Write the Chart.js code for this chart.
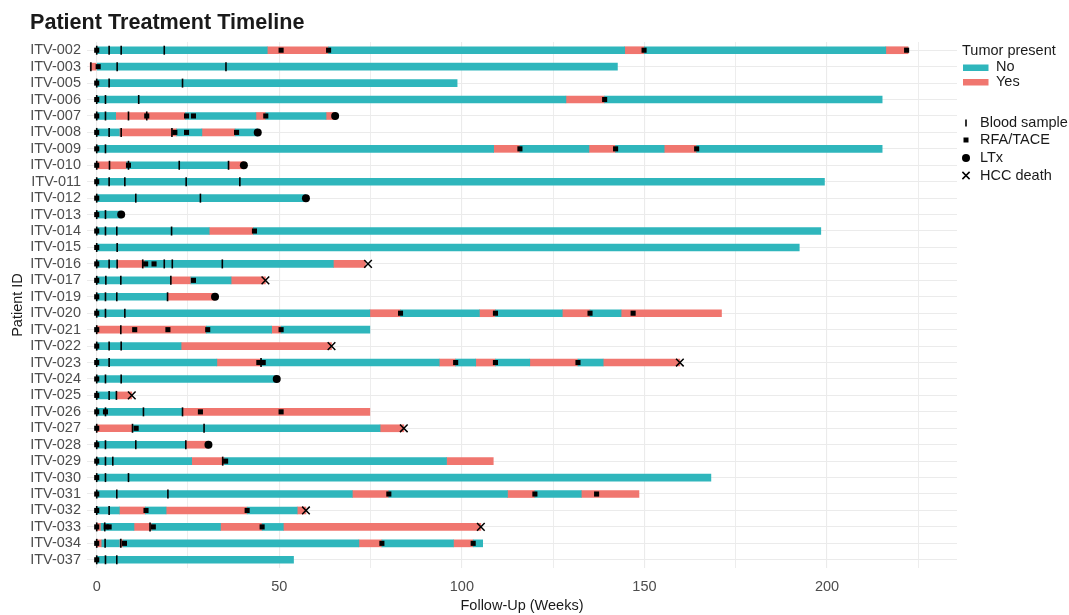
<!DOCTYPE html>
<html>
<head>
<meta charset="utf-8">
<title>Patient Treatment Timeline</title>
<script src="https://cdn.jsdelivr.net/npm/chart.js@4.4.0/dist/chart.umd.min.js"></script>
<style>
  html, body { margin: 0; padding: 0; background: #fff; }
</style>
</head>
<body>
<canvas id="timeline" width="1069" height="615"></canvas>
<script>
const patients = ["ITV-002", "ITV-003", "ITV-005", "ITV-006", "ITV-007", "ITV-008", "ITV-009", "ITV-010",
  "ITV-011", "ITV-012", "ITV-013", "ITV-014", "ITV-015", "ITV-016", "ITV-017", "ITV-019", "ITV-020",
  "ITV-021", "ITV-022", "ITV-023", "ITV-024", "ITV-025", "ITV-026", "ITV-027", "ITV-028", "ITV-029",
  "ITV-030", "ITV-031", "ITV-032", "ITV-033", "ITV-034", "ITV-037"];

// change points of tumor status (weeks), one row per patient
const tumorBreaks = [
  [0, 46.7, 63.5, 144.6, 150, 216.1, 222.2],
  [-1.8, 0, 142.6],
  [0, 98.7],
  [0, 128.5, 139.1, 215.1],
  [0, 5.2, 24.3, 43.6, 46.3, 62.8, 65.3],
  [0, 6.2, 21.9, 28.8, 37.9, 44.1],
  [0, 108.7, 115.9, 134.8, 142.1, 155.4, 164.3, 215.1],
  [0, 8.2, 36, 40.3],
  [0, 199.3],
  [0, 57.3],
  [0, 6.7],
  [0, 30.8, 42.9, 198.3],
  [0, 192.4],
  [0, 5.6, 13.2, 64.8, 73.6],
  [0, 20.3, 25.8, 36.8, 46.2],
  [0, 19.2, 32.4],
  [0, 74.8, 83.2, 104.8, 109.2, 127.5, 135.1, 143.6, 171.1],
  [0, 30, 47.9, 50.5, 74.8],
  [0, 23.1, 64.3],
  [0, 32.9, 45, 93.8, 98.3, 103.8, 109.2, 118.6, 131.8, 138.7, 159.7],
  [0, 49.3],
  [0, 5.4, 9.6],
  [0, 23.5, 74.8],
  [0, 9.8, 77.6, 84.1],
  [0, 24.4, 30.6],
  [0, 26, 35, 95.8, 108.6],
  [0, 168.2],
  [0, 70, 80, 112.5, 120, 132.7, 148.5],
  [0, 6.2, 13.3, 19, 41.2, 54.9, 57.3],
  [0, 1.2, 10.2, 15.1, 33.9, 45.3, 51.1, 105.2],
  [0, 1.4, 6.2, 7.2, 71.8, 78.1, 97.7, 103.1, 105.7],
  [0, 53.9]
];
// N = no tumor, Y = tumor present, one letter per segment
const tumorStates = ["NYNYNY", "YN", "N", "NYN", "NYNYNY", "NYNYN", "NYNYNYN", "YNY",
  "N", "N", "N", "NYN", "N", "NYNY", "NYNY", "NY", "NYNYNYNY",
  "YNYN", "NY", "NYNYNYNYNY", "N", "NY", "NY", "YNY", "NY", "NYNY",
  "N", "NYNYNY", "NYNYNY", "YNYNYNY", "YNYNYNYN", "N"];

const bloodWeeks = [
  [0, 3.4, 6.7, 18.5], [-1.6, 5.6, 35.4], [0, 3.4, 23.5], [0, 2.4, 11.5], [0, 2.4, 8.7, 13.7],
  [0, 3.4, 6.7, 20.6], [0, 2.4], [0, 3.5, 8.7, 22.6, 36.1], [0, 3.4, 7.7, 24.5, 39.2], [0, 10.7, 28.4],
  [0, 2.4], [0, 2.4, 5.5, 20.5], [0, 5.6], [0, 3.4, 5.6, 12.6, 18.5, 20.7, 34.4], [0, 2.5, 6.6, 20.3],
  [0, 2.4, 5.5, 19.4], [0, 2.4, 7.7], [0, 6.6], [0, 3.4, 6.7], [0, 3.4, 45], [0, 2.4, 6.7],
  [0, 3.4, 5.4], [0, 2.4, 12.8, 23.5], [0, 9.8, 29.4], [0, 2.4, 10.7, 24.4], [0, 2.4, 4.4, 34.5],
  [0, 2.4, 8.7], [0, 5.5, 19.5], [0, 3.4], [0, 2.2, 14.6], [0, 2.3, 6.6], [0, 2.4, 5.5]
];
const rfaWeeks = [
  [0, 50.5, 63.5, 149.9, 221.8], [0.4], [0], [0, 139.1], [0, 13.7, 24.6, 26.5, 46.3],
  [0, 21.4, 24.6, 38.3], [0, 115.9, 142.1, 164.3], [0, 8.7], [0], [0],
  [0], [0, 43.2], [0], [0, 13.4, 15.7], [0, 26.5],
  [0], [0, 83.2, 109.2, 135.1, 146.9], [0, 10.4, 19.5, 30.4, 50.5], [0], [0, 44.4, 45.6, 98.3, 109.2, 131.8], [0],
  [0], [0, 2.4, 28.4, 50.5], [0, 10.8], [0], [0, 35.3],
  [0], [0, 80, 120, 136.9], [0, 13.5, 41.2], [0, 2.6, 3.4, 15.5, 45.3], [0, 7.6, 78.1, 103.1], [0]
];
const ltxEvents = [["ITV-007", 65.3], ["ITV-008", 44.1], ["ITV-010", 40.3], ["ITV-012", 57.3],
  ["ITV-013", 6.7], ["ITV-019", 32.4], ["ITV-024", 49.3], ["ITV-028", 30.6]];
const deathEvents = [["ITV-016", 74.3], ["ITV-017", 46.2], ["ITV-022", 64.3], ["ITV-023", 159.7],
  ["ITV-025", 9.6], ["ITV-027", 84.1], ["ITV-032", 57.3], ["ITV-033", 105.2]];

const xTicks = [0, 25, 50, 75, 100, 125, 150, 175, 200, 225];
const xLabels = [0, 50, 100, 150, 200];

const TEAL = "#2FB6BC";
const SALMON = "#F0766F";
const FONT = "'Liberation Sans', Arial, sans-serif";

// build floating bar pieces
const noBars = [], yesBars = [];
patients.forEach((p, i) => {
  const b = tumorBreaks[i];
  for (let k = 0; k < b.length - 1; k++) {
    const piece = { y: p, x: [b[k], b[k + 1]] };
    if (tumorStates[i][k] === "Y") yesBars.push(piece); else noBars.push(piece);
  }
});
const toPoints = arr => arr.flatMap((weeks, i) => weeks.map(w => ({ x: w, y: patients[i] })));
const evPoints = arr => arr.map(e => ({ x: e[1], y: e[0] }));

// title + ggplot style legend
const decorations = {
  id: "decorations",
  afterDraw(chart) {
    const ctx = chart.ctx;
    ctx.save();
    ctx.fillStyle = "#1A1A1A";
    ctx.font = "bold 21.6px " + FONT;
    ctx.textBaseline = "alphabetic";
    ctx.fillText("Patient Treatment Timeline", 30, 28.5);

    ctx.font = "14.5px " + FONT;
    ctx.textBaseline = "middle";
    ctx.fillText("Tumor present", 962, 51);
    ctx.fillStyle = TEAL;
    ctx.fillRect(963, 64.5, 25.5, 6.5);
    ctx.fillStyle = SALMON;
    ctx.fillRect(963, 79, 25.5, 6.5);
    ctx.fillStyle = "#1A1A1A";
    ctx.fillText("No", 996, 67);
    ctx.fillText("Yes", 996, 82);

    ctx.fillStyle = "#000";
    ctx.strokeStyle = "#000";
    ctx.lineWidth = 1.6;
    ctx.beginPath();
    ctx.moveTo(966, 119.5);
    ctx.lineTo(966, 126.5);
    ctx.stroke();
    ctx.fillRect(963.5, 137.5, 5, 5);
    ctx.beginPath();
    ctx.arc(966, 158, 4, 0, Math.PI * 2);
    ctx.fill();
    ctx.lineWidth = 1.5;
    ctx.beginPath();
    ctx.moveTo(962.4, 171.9); ctx.lineTo(969.6, 179.1);
    ctx.moveTo(969.6, 171.9); ctx.lineTo(962.4, 179.1);
    ctx.stroke();

    ctx.fillStyle = "#1A1A1A";
    ctx.fillText("Blood sample", 980, 123);
    ctx.fillText("RFA/TACE", 980, 140);
    ctx.fillText("LTx", 980, 158);
    ctx.fillText("HCC death", 980, 175.5);
    ctx.restore();
  }
};

new Chart(document.getElementById("timeline"), {
  type: "bar",
  data: {
    labels: patients,
    datasets: [
      { type: "scatter", label: "HCC death", data: evPoints(deathEvents), order: 0,
        pointStyle: "crossRot", pointRadius: 5.4, pointBorderColor: "#000", pointBorderWidth: 1.5 },
      { type: "scatter", label: "LTx", data: evPoints(ltxEvents), order: 1,
        pointStyle: "circle", pointRadius: 4, pointBackgroundColor: "#000", pointBorderWidth: 0 },
      { type: "scatter", label: "RFA/TACE", data: toPoints(rfaWeeks), order: 2,
        pointStyle: "rect", pointRadius: 3.6, pointBackgroundColor: "#000", pointBorderWidth: 0 },
      { type: "scatter", label: "Blood sample", data: toPoints(bloodWeeks), order: 3,
        pointStyle: "line", pointRotation: 90, pointRadius: 4.5, pointBorderColor: "#000", pointBorderWidth: 1.6 },
      { label: "No", data: noBars, indexAxis: "y", backgroundColor: TEAL, order: 5,
        barThickness: 7, grouped: false, borderWidth: 0, borderSkipped: false },
      { label: "Yes", data: yesBars, indexAxis: "y", backgroundColor: SALMON, order: 5,
        barThickness: 7, grouped: false, borderWidth: 0, borderSkipped: false }
    ]
  },
  options: {
    responsive: false,
    animation: false,
    events: [],
    layout: { padding: { top: 42, right: 112, bottom: 0, left: 0 } },
    plugins: { legend: { display: false }, tooltip: { enabled: false }, title: { display: false } },
    scales: {
      x: {
        type: "linear",
        offset: false,
        min: -2.66,
        max: 235.6,
        afterBuildTicks: axis => { axis.ticks = xTicks.map(v => ({ value: v })); },
        afterFit: scale => { scale.height = 47; },
        ticks: {
          callback: v => xLabels.includes(v) ? String(v) : "",
          color: "#4D4D4D",
          padding: 10,
          maxRotation: 0,
          autoSkip: false,
          font: { family: FONT, size: 14.5 }
        },
        grid: {
          color: "#EBEBEB",
          offset: false,
          lineWidth: c => (c.tick && xLabels.includes(c.tick.value)) ? 1.1 : 0.9,
          drawTicks: false
        },
        border: { display: false },
        title: { display: true, text: "Follow-Up (Weeks)", color: "#1A1A1A",
          padding: { top: 0, bottom: 0 }, font: { family: FONT, size: 14.5 } }
      },
      y: {
        type: "category",
        offset: true,
        afterFit: scale => { scale.width = 87; },
        ticks: { color: "#4D4D4D", padding: 6, autoSkip: false, font: { family: FONT, size: 14.5 } },
        grid: { color: "#EBEBEB", lineWidth: 1.1, offset: false, drawTicks: false },
        border: { display: false },
        title: { display: true, text: "Patient ID", color: "#1A1A1A",
          padding: { top: 9, bottom: 0 }, font: { family: FONT, size: 14.5 } }
      }
    }
  },
  plugins: [decorations]
});
</script>
</body>
</html>
